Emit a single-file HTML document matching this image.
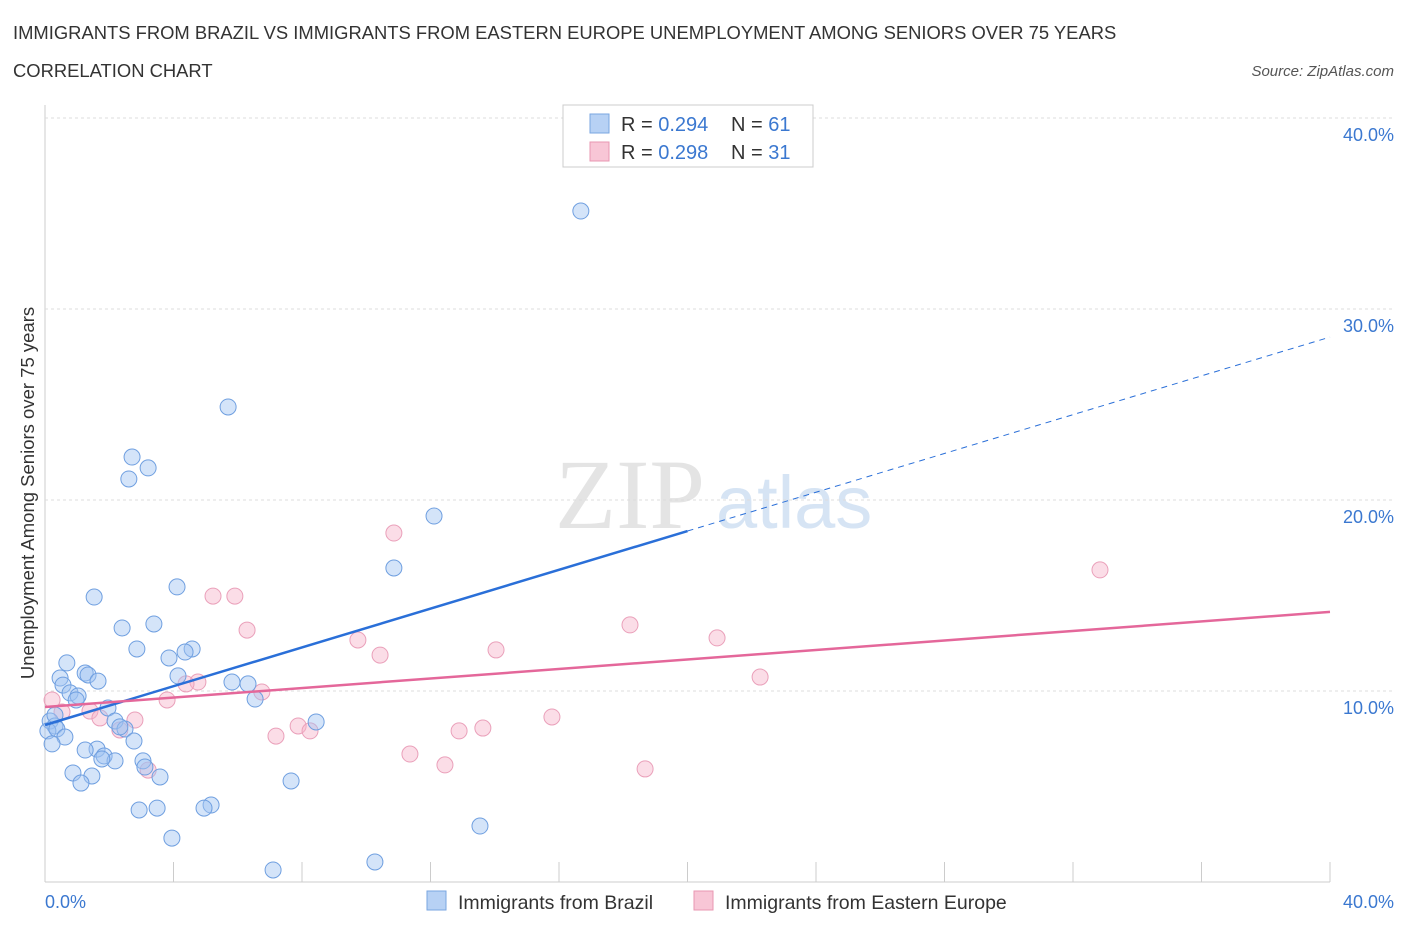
<!DOCTYPE html>
<html><head><meta charset="utf-8"><style>
body{margin:0;background:#fff;font-family:"Liberation Sans",sans-serif;}
#c{position:absolute;left:0;top:0;}
</style></head><body>
<svg id="c" width="1406" height="930" xmlns="http://www.w3.org/2000/svg" font-family="Liberation Sans, sans-serif">
<text x="13" y="39" font-size="18.4" fill="#333">IMMIGRANTS FROM BRAZIL VS IMMIGRANTS FROM EASTERN EUROPE UNEMPLOYMENT AMONG SENIORS OVER 75 YEARS</text>
<text x="13" y="77" font-size="18.4" fill="#333">CORRELATION CHART</text>
<text x="1394" y="76" font-size="15" fill="#555" text-anchor="end" font-style="italic">Source: ZipAtlas.com</text>
<text x="555" y="528" font-size="100" fill="#e4e4e4" font-family="Liberation Serif, serif">ZIP</text>
<text x="716" y="528" font-size="74" fill="#d6e4f4">atlas</text>
<g id="grid"></g><g id="pts"></g><g id="lines"></g>
<text transform="translate(34,493) rotate(-90)" font-size="18.5" fill="#333" text-anchor="middle">Unemployment Among Seniors over 75 years</text>
<text x="45" y="908" font-size="18" fill="#3b78d0">0.0%</text>
<text x="1394" y="908" font-size="18" fill="#3b78d0" text-anchor="end">40.0%</text>
<g>
<rect x="563" y="105" width="250" height="62" fill="#fff" stroke="#ccc"/>
<rect x="590" y="114" width="19" height="19" fill="#b7d1f4" stroke="#7aa6e0"/>
<rect x="590" y="142" width="19" height="19" fill="#f8c6d6" stroke="#e897b2"/>
<text x="621" y="131" font-size="20" fill="#333">R = <tspan fill="#3b78d0">0.294</tspan></text>
<text x="731" y="131" font-size="20" fill="#333">N = <tspan fill="#3b78d0">61</tspan></text>
<text x="621" y="159" font-size="20" fill="#333">R = <tspan fill="#3b78d0">0.298</tspan></text>
<text x="731" y="159" font-size="20" fill="#333">N = <tspan fill="#3b78d0">31</tspan></text>
</g>
<g>
<rect x="427" y="891" width="19" height="19" fill="#b7d1f4" stroke="#7aa6e0"/>
<text x="458" y="909" font-size="19.5" fill="#333">Immigrants from Brazil</text>
<rect x="694" y="891" width="19" height="19" fill="#f8c6d6" stroke="#e897b2"/>
<text x="725" y="909" font-size="19.5" fill="#333">Immigrants from Eastern Europe</text>
</g>
</svg>
<script>
const yTicks=[10,20,30,40];
const xTickCount=10;
const brazilX=[16.68,5.70,2.71,3.21,2.61,12.11,10.86,1.53,4.11,2.40,3.39,2.86,4.58,4.36,3.86,0.68,1.25,0.47,1.34,1.65,4.14,5.82,6.32,6.54,0.56,0.78,1.03,0.97,1.96,0.16,0.31,0.09,0.37,0.62,0.22,2.18,2.49,2.77,1.62,1.25,1.84,2.18,1.77,3.05,3.11,0.87,1.46,3.58,1.12,7.66,8.44,5.17,4.95,2.93,3.49,3.95,13.54,10.27,7.10,0.31,2.33];
const brazilY=[35.13,24.87,22.25,21.68,21.10,19.16,16.44,14.92,15.45,13.30,13.51,12.20,12.20,12.04,11.73,11.47,10.94,10.68,10.84,10.52,10.79,10.47,10.37,9.58,10.31,9.90,9.74,9.53,9.11,8.43,8.17,7.91,8.01,7.59,7.23,8.43,8.01,7.38,6.96,6.91,6.60,6.34,6.44,6.34,6.02,5.71,5.55,5.50,5.18,5.29,8.38,4.03,3.87,3.77,3.87,2.30,2.93,1.05,0.63,8.74,8.12];
const eeX=[10.86,32.84,5.23,5.91,6.29,18.21,20.92,9.74,10.43,14.04,4.76,4.39,6.75,3.80,22.26,1.40,1.71,2.80,7.88,7.19,8.25,12.89,13.63,15.78,11.36,12.45,18.68,3.21,2.33,0.22,0.53];
const eeY=[18.27,16.34,14.97,14.97,13.19,13.46,12.78,12.67,11.88,12.15,10.47,10.37,9.95,9.53,10.73,8.95,8.59,8.48,8.17,7.64,7.91,7.91,8.06,8.64,6.70,6.13,5.92,5.86,7.96,9.53,8.90];
const trendBrazil=[8.22,28.53];
const trendEE=[9.16,14.14];
const sx=v=>45+v*(1285/40), sy=v=>882-v*19.1;
const NS='http://www.w3.org/2000/svg';
function mk(t,a,p){const e=document.createElementNS(NS,t);for(const k in a)e.setAttribute(k,a[k]);p.appendChild(e);return e;}
const grid=document.getElementById('grid');
mk('line',{x1:45,y1:105,x2:45,y2:882,stroke:'#ccc'},grid);
mk('line',{x1:45,y1:882,x2:1330,y2:882,stroke:'#ccc'},grid);
yTicks.forEach(t=>{
 const l=mk('line',{x1:45,y1:sy(t),x2:1394,y2:sy(t),stroke:'#ddd','stroke-dasharray':'3,3'},grid);
 
 
 const tx=mk('text',{x:1394,y:sy(t)+23,'font-size':18,fill:'#3b78d0','text-anchor':'end'},grid);
 tx.textContent=t.toFixed(1)+'%';
 
 
});
for(let i=1;i<=xTickCount;i++){
 const l=mk('line',{x1:sx(i*4),y1:862,x2:sx(i*4),y2:882,stroke:'#ccc'},grid);
 
 
}
const pts=document.getElementById('pts');
eeX.forEach((x,i)=>{const c=mk('circle',{cx:sx(x),cy:sy(eeY[i]),r:8,fill:'rgba(246,180,202,0.45)',stroke:'#eaa0ba'},pts);
 
 });
brazilX.forEach((x,i)=>{const c=mk('circle',{cx:sx(x),cy:sy(brazilY[i]),r:8,fill:'rgba(160,196,242,0.45)',stroke:'#6f9fe0'},pts);
 
 });
const lines=document.getElementById('lines');
const bAt=x=>trendBrazil[0]+(trendBrazil[1]-trendBrazil[0])*x/40;
let l1=mk('line',{x1:sx(0),y1:sy(bAt(0)),x2:sx(20),y2:sy(bAt(20)),stroke:'#2a6fd8','stroke-width':2.5},lines);


let l2=mk('line',{x1:sx(20),y1:sy(bAt(20)),x2:sx(40),y2:sy(bAt(40)),stroke:'#2a6fd8','stroke-width':1,'stroke-dasharray':'6,5'},lines);


let l3=mk('line',{x1:sx(0),y1:sy(trendEE[0]),x2:sx(40),y2:sy(trendEE[1]),stroke:'#e4679a','stroke-width':2.5},lines);


</script>
</body></html>
